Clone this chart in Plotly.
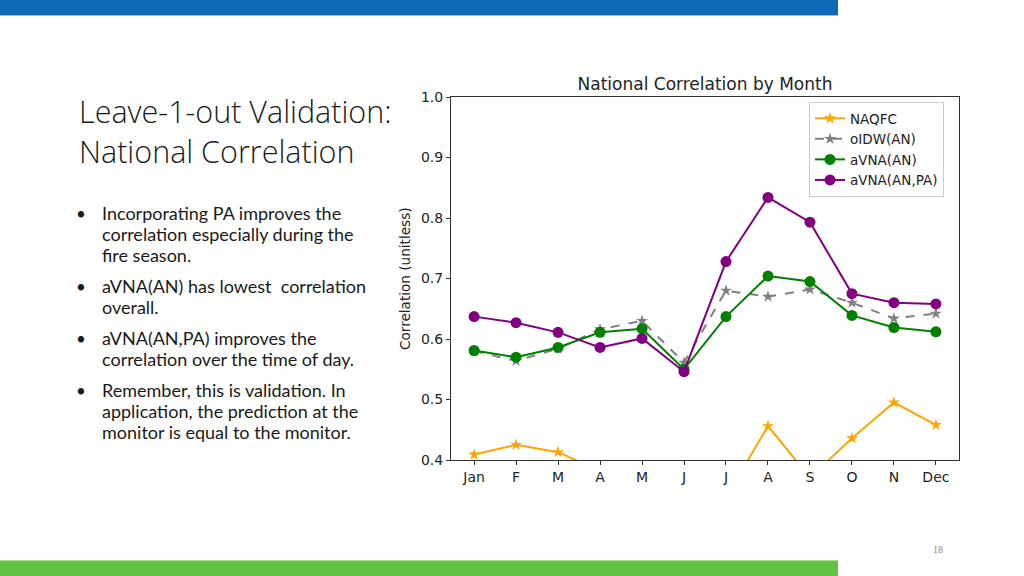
import plotly.graph_objects as go

months = ["Jan", "F", "M", "A", "M", "J", "J", "A", "S", "O", "N", "Dec"]
naqfc = [0.409, 0.425, 0.413, 0.382, 0.37, 0.35, 0.338, 0.456, 0.371, 0.436, 0.495, 0.458]
oidw_an = [0.580, 0.564, 0.584, 0.616, 0.630, 0.561, 0.680, 0.670, 0.682, 0.660, 0.634, 0.642]
avna_an = [0.581, 0.570, 0.586, 0.611, 0.617, 0.550, 0.637, 0.704, 0.695, 0.639, 0.619, 0.612]
avna_an_pa = [0.637, 0.627, 0.611, 0.586, 0.601, 0.546, 0.728, 0.834, 0.793, 0.675, 0.660, 0.658]

series_names = ["NAQFC", "oIDW(AN)", "aVNA(AN)", "aVNA(AN,PA)"]
yticks = [0.4, 0.5, 0.6, 0.7, 0.8, 0.9, 1.0]

slide_title = ["Leave-1-out Validation:", "National Correlation"]
bullets = [
    ["Incorporating PA improves the", "correlation especially during the", "fire season."],
    ["aVNA(AN) has lowest  correlation", "overall."],
    ["aVNA(AN,PA) improves the", "correlation over the time of day."],
    ["Remember, this is validation. In", "application, the prediction at the", "monitor is equal to the monitor."],
]

x = list(range(len(months)))
fig = go.Figure()
fig.add_trace(go.Scatter(x=x, y=naqfc, name=series_names[0], mode="lines+markers",
                         line=dict(color="orange", width=2),
                         marker=dict(symbol="star", size=9, color="orange")))
fig.add_trace(go.Scatter(x=x, y=oidw_an, name=series_names[1], mode="lines+markers",
                         line=dict(color="gray", width=2, dash="dash"),
                         marker=dict(symbol="star", size=9, color="gray")))
fig.add_trace(go.Scatter(x=x, y=avna_an, name=series_names[2], mode="lines+markers",
                         line=dict(color="green", width=2),
                         marker=dict(symbol="circle", size=11, color="green")))
fig.add_trace(go.Scatter(x=x, y=avna_an_pa, name=series_names[3], mode="lines+markers",
                         line=dict(color="purple", width=2),
                         marker=dict(symbol="circle", size=11, color="purple")))

W, H = 1024, 576
def px(v): return v / W
def py(v): return 1 - v / H

fig.update_layout(
    width=W, height=H, margin=dict(l=0, r=0, t=0, b=0, pad=0, autoexpand=False),
    paper_bgcolor="white", plot_bgcolor="white",
    font=dict(family="DejaVu Sans", color="#222"),
    title=dict(text="National Correlation by Month", x=px(705), y=py(84),
               xanchor="center", yanchor="middle", font=dict(size=17, family="DejaVu Sans", color="#222")),
    xaxis=dict(domain=[px(451), px(959)], range=[-0.55, 11.55], tickvals=x, ticktext=months,
               showgrid=False, zeroline=False, showline=True, mirror=True, linecolor="#333", linewidth=1,
               ticks="outside", ticklen=4, tickcolor="#333", tickfont=dict(size=14, color="#222"),
               automargin=False),
    yaxis=dict(domain=[py(460), py(97)], range=[0.4, 1.0], tickvals=yticks, tickformat=".1f",
               showgrid=False, zeroline=False, showline=True, mirror=True, linecolor="#333", linewidth=1,
               ticks="outside", ticklen=4, tickcolor="#333", tickfont=dict(size=14, color="#222"),
               automargin=False),
    legend=dict(x=px(809), y=py(102), xanchor="left", yanchor="top", bgcolor="white",
                bordercolor="#ccc", borderwidth=1, font=dict(size=13.5, color="#222"),
                tracegroupgap=0, itemwidth=30),
    showlegend=True,
)

shapes = [
    dict(type="rect", xref="paper", yref="paper", x0=0, x1=px(838), y0=py(15), y1=1,
         fillcolor="#0E6AB8", line=dict(width=0), layer="above"),
    dict(type="rect", xref="paper", yref="paper", x0=0, x1=px(838), y0=py(16), y1=py(15),
         fillcolor="#8CC4F0", line=dict(width=0), layer="above"),
    dict(type="rect", xref="paper", yref="paper", x0=0, x1=px(838), y0=0, y1=py(561),
         fillcolor="#62C244", line=dict(width=0), layer="above"),
    dict(type="rect", xref="paper", yref="paper", x0=0, x1=px(838), y0=py(561), y1=py(560),
         fillcolor="#A8DD95", line=dict(width=0), layer="above"),
]
fig.update_layout(shapes=shapes)

ann = []
ann.append(dict(text="Correlation (unitless)", x=px(405), y=py(279), xref="paper", yref="paper",
                textangle=-90, showarrow=False, xanchor="center", yanchor="middle",
                font=dict(size=13.6, family="DejaVu Sans", color="#222")))
ann.append(dict(text="<br>".join(slide_title), x=px(77), y=py(131), xref="paper", yref="paper",
                showarrow=False, xanchor="left", yanchor="middle", align="left",
                font=dict(size=30.5, family="Open Sans", weight=300, color="#1a1a1a")))
first_line = [213, 286, 338, 390]
for i, lines in enumerate(bullets):
    ann.append(dict(text="•", x=px(74), y=py(first_line[i]), xref="paper", yref="paper", showarrow=False,
                    xanchor="left", yanchor="middle",
                    font=dict(size=17, family="Lato", color="#1a1a1a")))
    for j, line in enumerate(lines):
        ann.append(dict(text=line, x=px(100), y=py(first_line[i] + 21 * j), xref="paper", yref="paper",
                        showarrow=False, xanchor="left", yanchor="middle", align="left",
                        font=dict(size=18, family="Lato", color="#1a1a1a")))
ann.append(dict(text="18", x=px(938), y=py(549), xref="paper", yref="paper", showarrow=False,
                xanchor="center", yanchor="middle", font=dict(size=10, family="Liberation Serif", color="#888")))
fig.update_layout(annotations=ann)

fig.write_html("out.html", config={"displayModeBar": False},
               post_script="document.body.style.margin='0';document.body.style.overflow='hidden';")
